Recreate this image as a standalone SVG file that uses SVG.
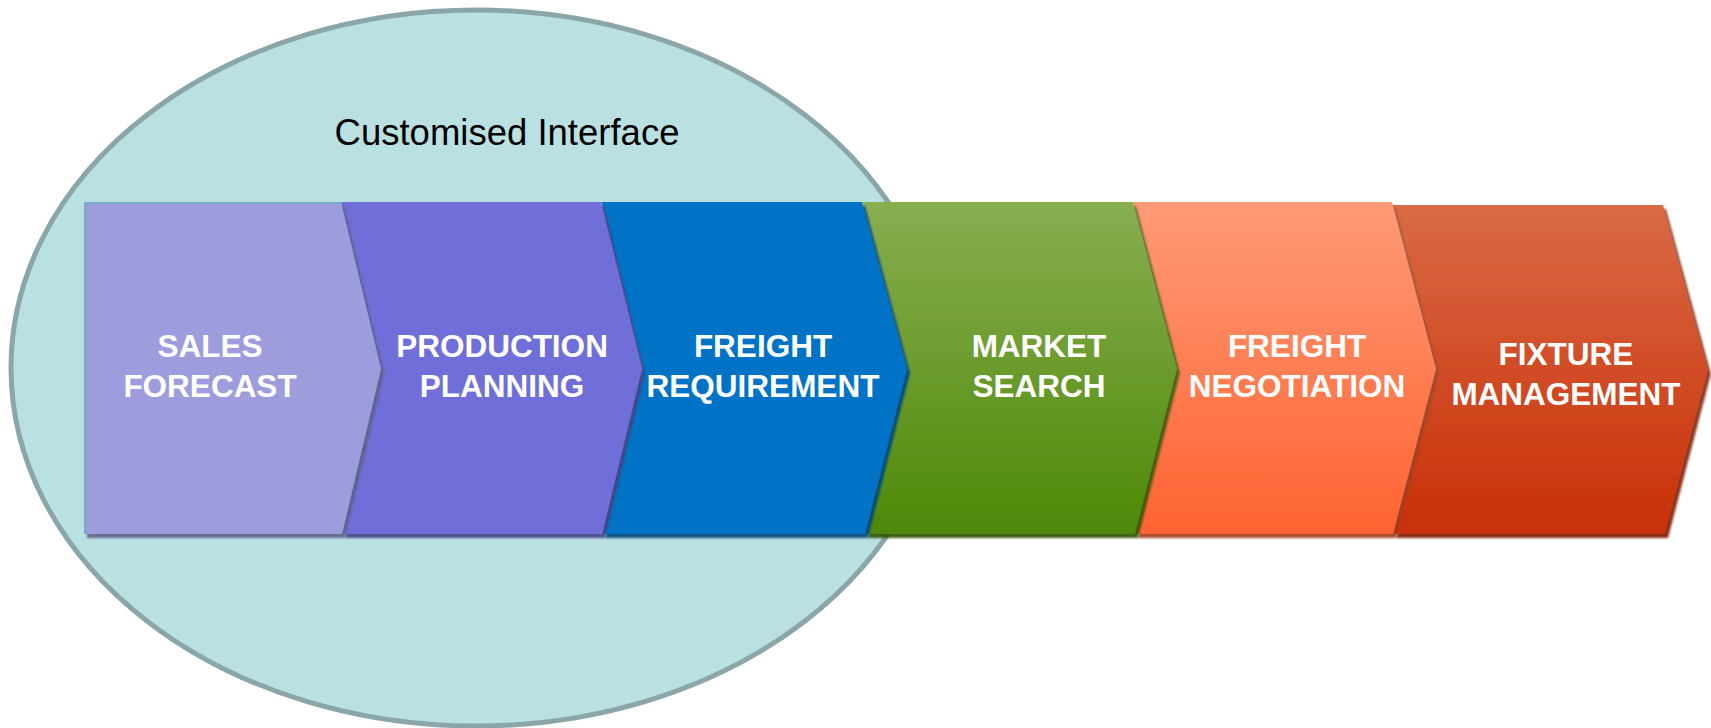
<svg xmlns="http://www.w3.org/2000/svg" width="1711" height="728" viewBox="0 0 1711 728">
  <defs>
    <linearGradient id="gGreen" x1="0" y1="0" x2="0" y2="1">
      <stop offset="0" stop-color="#88ae51"/>
      <stop offset="1" stop-color="#4e8908"/>
    </linearGradient>
    <linearGradient id="gOrange" x1="0" y1="0" x2="0" y2="1">
      <stop offset="0" stop-color="#ff9a77"/>
      <stop offset="1" stop-color="#ff6331"/>
    </linearGradient>
    <linearGradient id="gRed" x1="0" y1="0" x2="0" y2="1">
      <stop offset="0" stop-color="#d96a45"/>
      <stop offset="1" stop-color="#c92f08"/>
    </linearGradient>
    <filter id="shadow" x="-5%" y="-5%" width="115%" height="115%">
      <feColorMatrix in="SourceGraphic" type="matrix" values="0.35 0 0 0 0  0 0.35 0 0 0  0 0 0.35 0 0  0 0 0 0.9 0" result="dark"/>
      <feOffset in="dark" dx="3" dy="4" result="off"/>
      <feGaussianBlur in="off" stdDeviation="1" result="blur"/>
      <feMerge>
        <feMergeNode in="blur"/>
        <feMergeNode in="SourceGraphic"/>
      </feMerge>
    </filter>
    <style>
      .lbl { font-family: "Liberation Sans", Arial, sans-serif; font-weight: bold; font-size: 31.5px; fill: #ffffff; text-anchor: middle; }
      .title { font-family: "Liberation Sans", Arial, sans-serif; font-size: 36.5px; fill: #000000; text-anchor: middle; }
      .chev { filter: url(#shadow); }
      .hl { fill: none; stroke: #b9cbe6; stroke-width: 1.5; }
    </style>
  </defs>

  <g id="customised-interface">
    <ellipse cx="476" cy="368" rx="465" ry="358" fill="#bae0e2" stroke="#8aa6a9" stroke-width="5"/>
    <text class="title" x="507" y="145">Customised Interface</text>
  </g>

  <g id="connectors"></g>

  <g id="fixture-management">
    <polygon class="chev" points="1392,205 1663,205 1708,370 1665,534 1393,534 1436,369" fill="url(#gRed)"/>
    <text class="lbl" x="1566" y="365">FIXTURE</text>
    <text class="lbl" x="1566" y="405">MANAGEMENT</text>
  </g>

  <g id="freight-negotiation">
    <polygon class="chev" points="1133,202 1392,202 1436,369 1393,534 1135,534 1177,369" fill="url(#gOrange)"/>
    <text class="lbl" x="1297" y="357">FREIGHT</text>
    <text class="lbl" x="1297" y="397">NEGOTIATION</text>
  </g>

  <g id="market-search">
    <polygon class="chev" points="862,202 1133,202 1177,369 1135,534 865,534 907,369" fill="url(#gGreen)"/>
    <polyline class="hl" points="862,203 907,369 865,533" stroke="#b7d0c0"/>
    <text class="lbl" x="1039" y="357">MARKET</text>
    <text class="lbl" x="1039" y="397">SEARCH</text>
  </g>

  <g id="freight-requirement">
    <polygon class="chev" points="601,202 862,202 907,369 865,534 602,534 642,369" fill="#0073c6"/>
    <polyline class="hl" points="601,203 642,369 602,533"/>
    <text class="lbl" x="763" y="357">FREIGHT</text>
    <text class="lbl" x="763" y="397">REQUIREMENT</text>
  </g>

  <g id="production-planning">
    <polygon class="chev" points="341,202 601,202 642,369 602,534 342,534 381,369" fill="#6f6ed8"/>
    <text class="lbl" x="502" y="357">PRODUCTION</text>
    <text class="lbl" x="502" y="397">PLANNING</text>
  </g>

  <g id="sales-forecast">
    <polygon class="chev" points="84,202 341,202 381,369 342,534 84,534" fill="#9d9cdd"/>
    <polyline points="85,534 85,203 341,203" fill="none" stroke="#72aecb" stroke-width="2"/>
    <text class="lbl" x="210" y="357">SALES</text>
    <text class="lbl" x="210" y="397">FORECAST</text>
  </g>
</svg>
